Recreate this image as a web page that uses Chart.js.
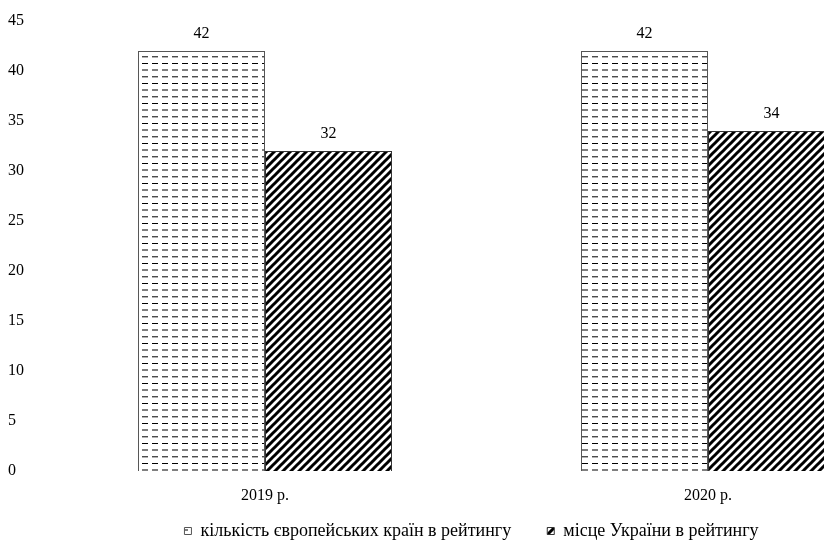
<!DOCTYPE html>
<html>
<head>
<meta charset="utf-8">
<script src="https://cdn.jsdelivr.net/npm/chart.js@4"></script>
<style>
  body { margin: 0; background: #fff; }
  #wrap { position: relative; width: 824px; height: 542px; overflow: hidden; }
  #box { position: absolute; left: -30px; top: 0; width: 962px; height: 550px; }
</style>
</head>
<body>
<div id="wrap"><div id="box"><canvas id="mycanvas"></canvas></div></div>
<script>
var labels = ['2019 р.', '2020 р.'];
var countriesInRating = [42, 42];
var ukrainePlace = [32, 34];
var seriesNames = ['кількість європейських країн в рейтингу', 'місце України в рейтингу'];
var yMax = 45;
var yStep = 5;

// dashed fill for the first series
function dashPattern() {
  var c = document.createElement('canvas');
  c.width = 10; c.height = 20;
  var g = c.getContext('2d');
  g.fillStyle = '#fff';
  g.fillRect(0, 0, 10, 20);
  g.fillStyle = '#000';
  g.fillRect(2, 3, 6, 1);
  g.fillRect(2, 9.5, 6, 1);
  g.fillRect(2, 16.3, 6, 1);
  return g.createPattern(c, 'repeat');
}

// diagonal hatch for the second series
function hatchPattern() {
  var c = document.createElement('canvas');
  c.width = 8; c.height = 8;
  var g = c.getContext('2d');
  g.fillStyle = '#fff';
  g.fillRect(0, 0, 8, 8);
  g.strokeStyle = '#000';
  g.lineWidth = 3;
  g.beginPath();
  g.moveTo(-2, 10); g.lineTo(10, -2);
  g.moveTo(-6, 6); g.lineTo(6, -6);
  g.moveTo(2, 14); g.lineTo(14, 2);
  g.stroke();
  return g.createPattern(c, 'repeat');
}

var valueLabels = {
  id: 'valueLabels',
  afterDatasetsDraw: function(chart) {
    var ctx = chart.ctx;
    ctx.save();
    ctx.font = '16px "Liberation Serif", "Times New Roman", serif';
    ctx.fillStyle = '#000';
    ctx.textAlign = 'center';
    ctx.textBaseline = 'middle';
    chart.data.datasets.forEach(function(ds, i) {
      chart.getDatasetMeta(i).data.forEach(function(bar, j) {
        ctx.fillText(ds.data[j], bar.x, bar.y - 17);
      });
    });
    ctx.restore();
  }
};

Chart.defaults.font.family = '"Liberation Serif", "Times New Roman", serif';
Chart.defaults.font.size = 16;
Chart.defaults.color = '#000';

var chartdata = {
  labels: labels,
  datasets: [
    {
      label: seriesNames[0],
      backgroundColor: dashPattern(),
      borderColor: '#555',
      borderWidth: 1,
      data: countriesInRating
    },
    {
      label: seriesNames[1],
      backgroundColor: hatchPattern(),
      borderColor: '#333',
      borderWidth: 1,
      data: ukrainePlace
    }
  ]
};

var ctx = document.getElementById('mycanvas');

var BarGraph = new Chart(ctx, {
  type: 'bar',
  data: chartdata,
  plugins: [valueLabels],
  options: {
    responsive: true,
    maintainAspectRatio: false,
    animation: false,
    layout: { padding: { top: 21, left: 43.5, right: 2.5, bottom: 0 } },
    datasets: { bar: { categoryPercentage: 0.5734, barPercentage: 1 } },
    plugins: {
      legend: {
        position: 'bottom',
        labels: { boxWidth: 7, boxHeight: 7, padding: 36, color: '#000', font: { size: 18 } }
      },
      tooltip: { enabled: false }
    },
    scales: {
      x: {
        grid: { display: false, drawTicks: false },
        border: { display: false },
        ticks: { mirror: true, padding: -34 },
        afterFit: function(scale) { scale.height = 15; }
      },
      y: {
        min: 0,
        max: yMax,
        grid: { display: false, drawTicks: false },
        border: { display: false },
        ticks: { stepSize: yStep, mirror: true, padding: -35.5 },
        afterFit: function(scale) { scale.width = 30; }
      }
    }
  }
});
</script>
</body>
</html>
